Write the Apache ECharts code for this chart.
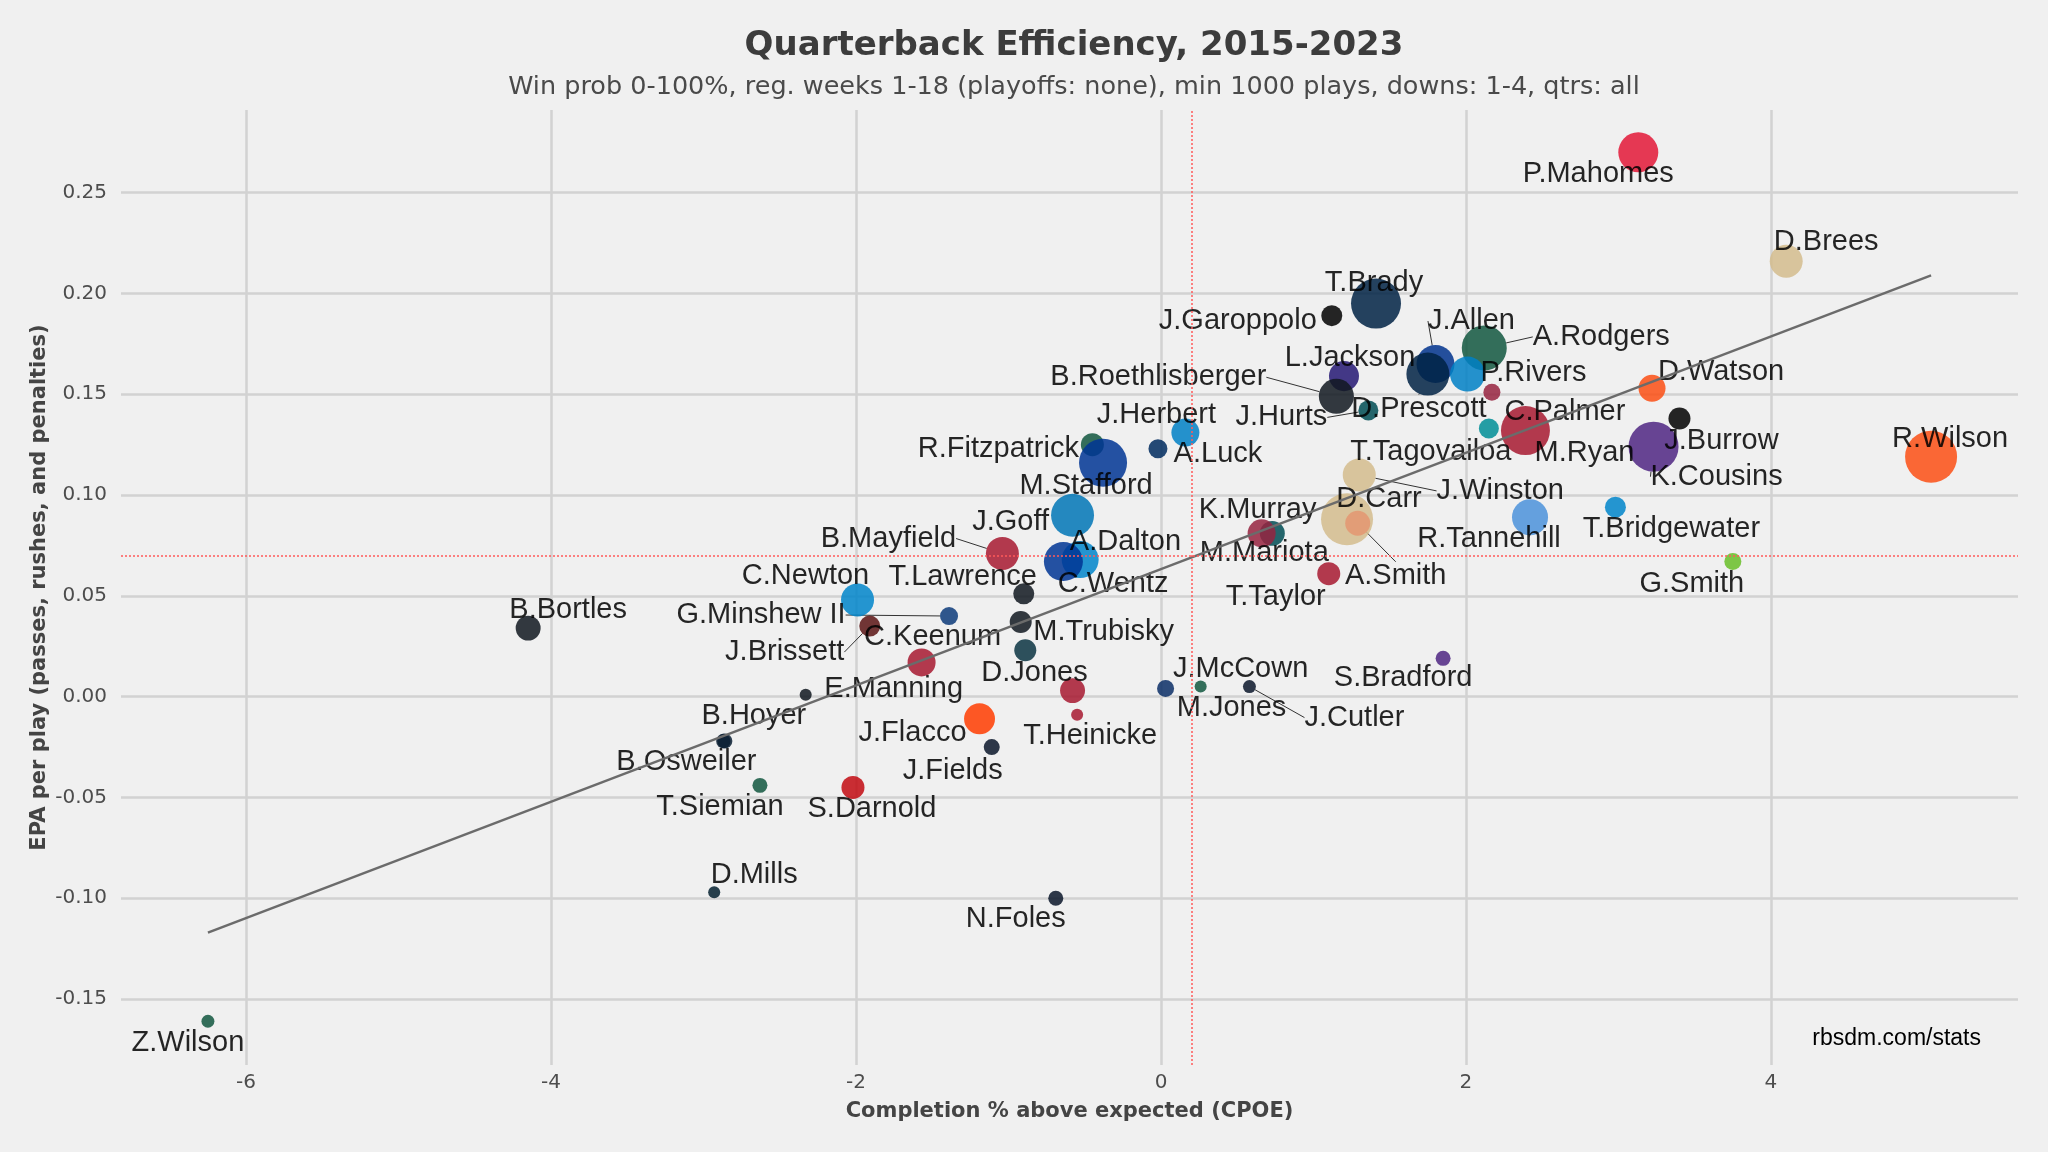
<!DOCTYPE html>
<html>
<head>
<meta charset="UTF-8">
<title>qb-efficiency</title>
<style>html,body{margin:0;padding:0;background:#f0f0f0}#chart{width:2048px;height:1152px}</style>
</head>
<body>
<div id="chart"></div>
<script src="https://cdn.jsdelivr.net/npm/echarts@6/dist/echarts.min.js"></script>
<script>
// ---- data ----
const players = ['P.Mahomes','D.Brees','T.Brady','J.Garoppolo','J.Allen','A.Rodgers','L.Jackson','D.Prescott','P.Rivers','C.Palmer',
  'B.Roethlisberger','J.Hurts','T.Tagovailoa','M.Ryan','J.Herbert','A.Luck','R.Fitzpatrick','M.Stafford','D.Watson','J.Burrow',
  'K.Cousins','R.Wilson','J.Winston','D.Carr','A.Smith','R.Tannehill','T.Bridgewater','M.Mariota','K.Murray','J.Goff',
  'B.Mayfield','C.Wentz','A.Dalton','T.Taylor','G.Smith','T.Lawrence','C.Newton','G.Minshew II','M.Trubisky','J.Brissett',
  'B.Bortles','','C.Keenum','S.Bradford','J.McCown','M.Jones','J.Cutler','D.Jones','E.Manning','T.Heinicke',
  'J.Flacco','B.Osweiler','B.Hoyer','J.Fields','T.Siemian','S.Darnold','D.Mills','N.Foles','Z.Wilson'];
const cpoe = [3.13,4.10,1.41,1.12,1.80,2.12,1.20,1.75,2.01,2.17,
  1.15,1.36,2.15,2.39,0.16,-0.02,-0.45,-0.38,3.22,3.40,
  3.23,5.05,1.30,1.22,1.29,2.42,2.98,0.73,0.66,-0.58,
  -1.04,-0.53,-0.64,1.10,3.75,-0.90,-1.99,-1.39,-0.92,-1.91,
  -4.15,-0.89,-1.57,1.85,0.26,0.03,0.58,-0.58,-2.33,-0.55,
  -1.19,-2.87,-2.86,-1.11,-2.63,-2.02,-2.93,-0.69,-6.25];
const epa = [0.270,0.216,0.195,0.189,0.165,0.173,0.159,0.160,0.160,0.151,
  0.149,0.142,0.133,0.132,0.131,0.123,0.125,0.116,0.153,0.138,
  0.124,0.119,0.110,0.088,0.086,0.089,0.094,0.081,0.081,0.090,
  0.071,0.068,0.067,0.061,0.067,0.051,0.048,0.040,0.037,0.035,
  0.034,0.023,0.017,0.019,0.005,0.004,0.005,0.003,0.001,-0.009,
  -0.011,-0.022,-0.022,-0.025,-0.044,-0.045,-0.097,-0.100,-0.161];
const plays = [4320,3490,5500,2070,4080,4910,3140,4670,3730,1600,
  3730,1950,1950,5380,2900,1830,2310,5270,2780,2190,
  5500,5740,3490,5740,2540,3850,2070,2540,2900,4670,
  3490,3960,4200,2310,1600,2070,3490,1720,2190,2070,
  2540,2190,2900,1360,1010,1600,1120,2540,1010,1010,
  3250,1300,1360,1480,1360,2310,1010,1360,1120];
const teamColors = ['#e31837','#d3bc8d','#002244','#000000','#00338d','#125740','#241773','#002244','#0080c6','#97233f',
  '#101820','#004c54','#008e97','#a71930','#0080c6','#002c5f','#125740','#003594','#fb4f14','#000000',
  '#4f2683','#fb4f14','#d3bc8d','#d3bc8d','#e49671','#4b92db','#0085ca','#004c54','#97233f','#0076b6',
  '#a71930','#0085ca','#003594','#a71930','#69be28','#101820','#0085ca','#0d3b7a','#101820','#5a1414',
  '#101820','#0b3442','#a71930','#4f2683','#125740','#0b2e66','#0b162a','#a71930','#101820','#a71930',
  '#ff3c00','#0b1f33','#0b1f33','#0b162a','#125740','#c20a12','#03202f','#0b162a','#125740'];
const leaders = ['J.Allen','A.Rodgers','D.Prescott','B.Roethlisberger','J.Hurts','K.Cousins','J.Winston','A.Smith',
  'B.Mayfield','G.Minshew II','J.Brissett','J.Cutler'];
const trendCpoe = [-6.25, 5.05];
const trendEpa = [-0.117, 0.209];
const meanCpoe = 0.197;
const meanEpa = 0.070;
const xTicks = [-6, -4, -2, 0, 2, 4];
const yTicks = [-0.15, -0.10, -0.05, 0, 0.05, 0.10, 0.15, 0.20, 0.25];

// label placement (px from the bubble centre), layout only
const labelOffsets = [[-40,22],[40,-19],[-2,-21],[-94,5],[36,-43],[117,-11],[6,-18],[-9,35],[66,-1],[73,20],
  [-178,-19],[-87,7],[-58,23],[59,22],[-29,-18],[60,5],[-94,4],[-17,23],[69,-16],[42,23],
  [63,30],[19,-18],[141,16],[32,-20],[38,53],[-41,22],[56,22],[-8,20],[-4,-23],[-62,7],
  [-114,-15],[33,24],[62,-20],[-53,23],[-41,22],[-61,-17],[-52,-24],[-188,-1],[83,10],[-85,26],
  [40,-18],[0,0],[11,-25],[-40,20],[40,-18],[66,19],[105,31],[-38,-18],[88,-6],[13,21],
  [-67,14],[-37,21],[29,-25],[-39,24],[-40,22],[19,22],[40,-17],[-40,21],[-20,22]];

const sizeOf = p => 3.5 + p * 0.00845;

const points = players.map((name, i) => ({
  name: name,
  value: [cpoe[i], epa[i], plays[i]],
  itemStyle: { color: teamColors[i] },
  label: { show: name !== '' },
  labelLine: { show: leaders.indexOf(name) !== -1 }
}));

const chart = echarts.init(document.getElementById('chart'));
chart.setOption({
  backgroundColor: '#f0f0f0',
  animation: false,
  title: [
    { text: 'Quarterback Efficiency, 2015-2023', left: 1069, top: 24, textAlign: 'center',
      textStyle: { fontFamily: 'DejaVu Sans', fontSize: 34, fontWeight: 'bold', color: '#3c3c3c' } },
    { text: 'Win prob 0-100%, reg. weeks 1-18 (playoffs: none), min 1000 plays, downs: 1-4, qtrs: all',
      left: 1069, top: 69, textAlign: 'center',
      textStyle: { fontFamily: 'DejaVu Sans', fontSize: 25.5, fontWeight: 'normal', color: '#4a4a4a' } }
  ],
  graphic: [{
    type: 'text', right: 67, top: 1027,
    style: { text: 'rbsdm.com/stats', font: '23px "Liberation Sans", Arial, sans-serif', fill: '#000' }
  }],
  grid: { left: 121, right: 30, top: 110, bottom: 87 },
  xAxis: {
    type: 'value', min: -6.82, max: 5.62,
    name: 'Completion % above expected (CPOE)', nameLocation: 'middle', nameGap: 36,
    nameTextStyle: { fontFamily: 'DejaVu Sans', fontSize: 21, fontWeight: 'bold', color: '#444' },
    axisLine: { show: false },
    axisTick: { show: false, customValues: xTicks },
    axisLabel: { customValues: xTicks, margin: 8, fontFamily: 'DejaVu Sans', fontSize: 20, color: '#4d4d4d' },
    splitLine: { show: true, lineStyle: { color: '#d2d2d2', width: 2.5 } }
  },
  yAxis: {
    type: 'value', min: -0.1827, max: 0.291,
    name: 'EPA per play (passes, rushes, and penalties)', nameLocation: 'middle', nameGap: 71,
    nameMoveOverlap: false,
    nameTextStyle: { fontFamily: 'DejaVu Sans', fontSize: 21, fontWeight: 'bold', color: '#444' },
    axisLine: { show: false },
    axisTick: { show: false, customValues: yTicks },
    axisLabel: { customValues: yTicks, margin: 14, fontFamily: 'DejaVu Sans', fontSize: 20, color: '#4d4d4d',
      formatter: v => v.toFixed(2) },
    splitLine: { show: true, lineStyle: { color: '#d2d2d2', width: 2.5 } }
  },
  series: [
    {
      type: 'scatter', data: [], z: 1, silent: true,
      markLine: {
        silent: true, symbol: 'none', label: { show: false },
        lineStyle: { color: '#ff5a5a', type: [2, 2], width: 1.5 },
        data: [{ xAxis: meanCpoe }, { yAxis: meanEpa }]
      }
    },
    {
      type: 'scatter', z: 2,
      data: points,
      symbolSize: v => sizeOf(v[2]),
      itemStyle: { opacity: 0.85 },
      label: {
        position: 'inside', formatter: '{b}', color: '#000',
        fontFamily: 'Liberation Sans', fontSize: 29
      },
      labelLayout: p => ({ dx: labelOffsets[p.dataIndex][0], dy: labelOffsets[p.dataIndex][1] }),
      labelLine: { show: false, lineStyle: { color: '#333', width: 1 } },
      emphasis: { disabled: true }
    },
    {
      type: 'line', z: 3, symbol: 'none', silent: true,
      data: trendCpoe.map((c, i) => [c, trendEpa[i]]),
      lineStyle: { color: '#6b6b6b', width: 2.5 }
    }
  ]
});
</script>
</body>
</html>
